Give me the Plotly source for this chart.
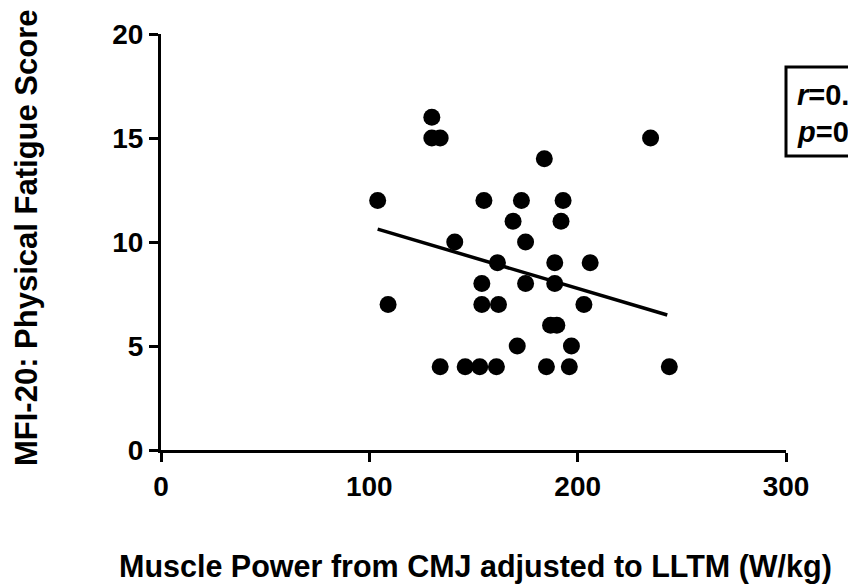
import plotly.graph_objects as go

# Data
power = [130, 130, 134, 235, 184,
         104, 155, 173, 193,
         169, 192,
         141, 175,
         161.5, 189, 206,
         154, 175, 189,
         109, 154, 162, 203,
         187, 190,
         171, 197,
         134, 146, 153, 161, 185, 196, 244]
fatigue = [16, 15, 15, 15, 14,
           12, 12, 12, 12,
           11, 11,
           10, 10,
           9, 9, 9,
           8, 8, 8,
           7, 7, 7, 7,
           6, 6,
           5, 5,
           4, 4, 4, 4, 4, 4, 4]

fit_x = [104, 243]
fit_y = [10.62, 6.49]

x_ticks = [0, 100, 200, 300]
y_ticks = [0, 5, 10, 15, 20]

FONT = "Liberation Sans, Arial, sans-serif"

fig = go.Figure()
fig.add_trace(go.Scatter(x=fit_x, y=fit_y, mode="lines",
                         line=dict(color="black", width=3.5), showlegend=False))
fig.add_trace(go.Scatter(x=power, y=fatigue, mode="markers",
                         marker=dict(color="black", size=17), showlegend=False))

axis_common = dict(showline=True, linecolor="black", linewidth=3,
                   ticks="outside", ticklen=9, tickwidth=3, tickcolor="black",
                   showgrid=False, zeroline=False,
                   tickfont=dict(family=FONT, size=28, color="black", weight="bold"))

fig.update_layout(
    width=848, height=586,
    margin=dict(l=161, r=62, t=34, b=136),
    paper_bgcolor="white", plot_bgcolor="white",
    xaxis=dict(range=[0, 300], tickvals=x_ticks, ticktext=[str(v) for v in x_ticks], **axis_common),
    yaxis=dict(range=[0, 20], tickvals=y_ticks, ticktext=[str(v) for v in y_ticks], **axis_common),
    font=dict(family=FONT, color="black"),
)

# axis titles
fig.add_annotation(text="<b>Muscle Power from CMJ adjusted to LLTM (W/kg)</b>",
                   xref="paper", yref="paper", x=(475 - 161) / 625, y=-(566 - 450) / 416,
                   xanchor="center", yanchor="middle", showarrow=False,
                   font=dict(family=FONT, size=30.5, color="black"))
fig.add_annotation(text="<b>MFI-20: Physical Fatigue Score</b>",
                   xref="paper", yref="paper", x=(26 - 161) / 625, y=(450 - 238) / 416,
                   xanchor="center", yanchor="middle", textangle=-90, showarrow=False,
                   font=dict(family=FONT, size=31, color="black"))

# statistics box (clipped at right edge as in reference)
fig.add_shape(type="rect", xref="paper", yref="paper",
              x0=1.0, x1=1.25, y0=(450 - 156) / 416, y1=(450 - 67) / 416,
              line=dict(color="black", width=3))
fig.add_annotation(text="<b><i>r</i>=0.22</b>", xref="paper", yref="paper",
                   x=(795 - 161) / 625, y=(450 - 95) / 416, xanchor="left", yanchor="middle",
                   showarrow=False, font=dict(family=FONT, size=29, color="black"))
fig.add_annotation(text="<b><i>p</i>=0.21</b>", xref="paper", yref="paper",
                   x=(795 - 161) / 625, y=(450 - 132) / 416, xanchor="left", yanchor="middle",
                   showarrow=False, font=dict(family=FONT, size=29, color="black"))

fig.write_html("out.html")
